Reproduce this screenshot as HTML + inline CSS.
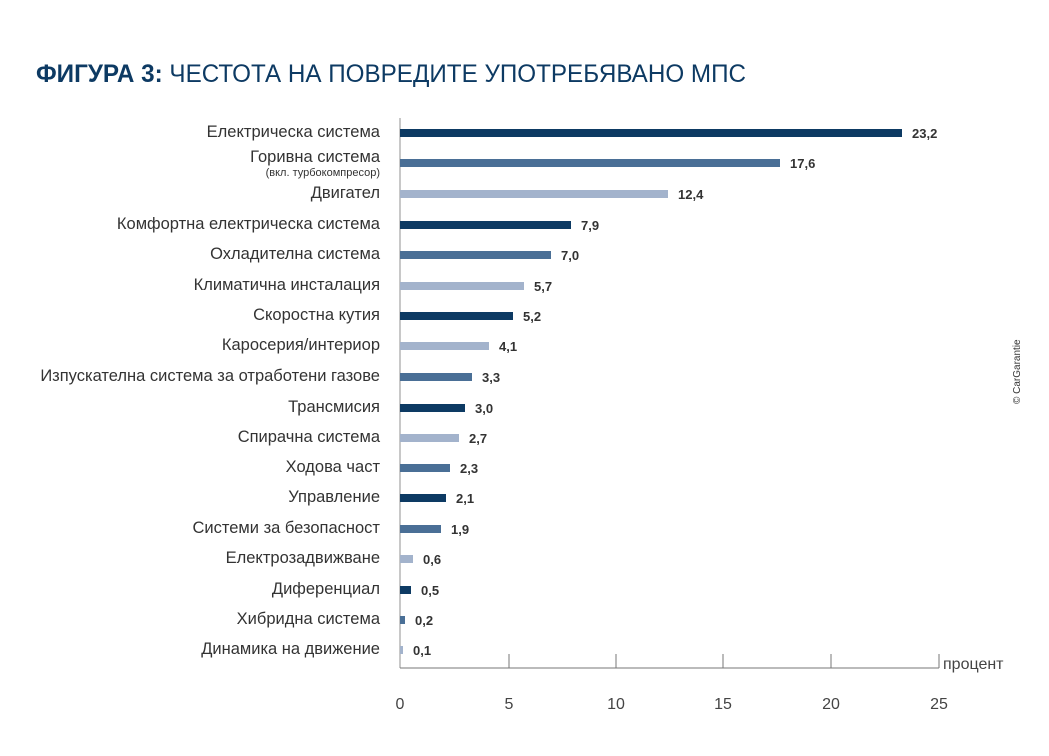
<!DOCTYPE html>
<html><head><meta charset="utf-8"><style>
body{margin:0;background:#fff;}
svg{display:block;font-family:"Liberation Sans","DejaVu Sans",sans-serif;}
</style></head><body>
<svg width="1049" height="756" viewBox="0 0 1049 756" xmlns="http://www.w3.org/2000/svg">
<text x="36" y="82" font-size="25" fill="#0d3a63" textLength="710" lengthAdjust="spacingAndGlyphs"><tspan font-weight="bold">ФИГУРА 3:</tspan> ЧЕСТОТА НА ПОВРЕДИТЕ УПОТРЕБЯВАНО МПС</text>
<line x1="400" y1="118" x2="400" y2="668" stroke="#c8c8c8" stroke-width="2"/>
<line x1="400" y1="668" x2="939" y2="668" stroke="#777" stroke-width="1"/>
<g stroke="#777" stroke-width="1">
<line x1="509" y1="654" x2="509" y2="668"/><line x1="616" y1="654" x2="616" y2="668"/><line x1="723" y1="654" x2="723" y2="668"/><line x1="831" y1="654" x2="831" y2="668"/><line x1="939" y1="654" x2="939" y2="668"/>
</g>
<g font-size="16" fill="#444" text-anchor="middle">
<text x="400" y="709">0</text><text x="509" y="709">5</text><text x="616" y="709">10</text><text x="723" y="709">15</text><text x="831" y="709">20</text><text x="939" y="709">25</text>
</g>
<text x="943" y="669" font-size="16" fill="#444">процент</text>
<text transform="translate(1020,404) rotate(-90)" font-size="10" fill="#333">© CarGarantie</text>
<g font-size="16.5" fill="#333" text-anchor="end">
<text x="380" y="137">Електрическа система</text>
<text x="380" y="162">Горивна система</text>
<text x="380" y="176" font-size="11">(вкл. турбокомпресор)</text>
<text x="380" y="198">Двигател</text>
<text x="380" y="229">Комфортна електрическа система</text>
<text x="380" y="259">Охладителна система</text>
<text x="380" y="290">Климатична инсталация</text>
<text x="380" y="320">Скоростна кутия</text>
<text x="380" y="350">Каросерия/интериор</text>
<text x="380" y="381">Изпускателна система за отработени газове</text>
<text x="380" y="412">Трансмисия</text>
<text x="380" y="442">Спирачна система</text>
<text x="380" y="472">Ходова част</text>
<text x="380" y="502">Управление</text>
<text x="380" y="533">Системи за безопасност</text>
<text x="380" y="563">Електрозадвижване</text>
<text x="380" y="594">Диференциал</text>
<text x="380" y="624">Хибридна система</text>
<text x="380" y="654">Динамика на движение</text>
</g>
<g>
<rect x="400" y="129" width="502" height="8" fill="#0d3a63"/>
<rect x="400" y="159" width="380" height="8" fill="#4a6f96"/>
<rect x="400" y="190" width="268" height="8" fill="#a3b3cc"/>
<rect x="400" y="221" width="171" height="8" fill="#0d3a63"/>
<rect x="400" y="251" width="151" height="8" fill="#4a6f96"/>
<rect x="400" y="282" width="124" height="8" fill="#a3b3cc"/>
<rect x="400" y="312" width="113" height="8" fill="#0d3a63"/>
<rect x="400" y="342" width="89" height="8" fill="#a3b3cc"/>
<rect x="400" y="373" width="72" height="8" fill="#4a6f96"/>
<rect x="400" y="404" width="65" height="8" fill="#0d3a63"/>
<rect x="400" y="434" width="59" height="8" fill="#a3b3cc"/>
<rect x="400" y="464" width="50" height="8" fill="#4a6f96"/>
<rect x="400" y="494" width="46" height="8" fill="#0d3a63"/>
<rect x="400" y="525" width="41" height="8" fill="#4a6f96"/>
<rect x="400" y="555" width="13" height="8" fill="#a3b3cc"/>
<rect x="400" y="586" width="11" height="8" fill="#0d3a63"/>
<rect x="400" y="616" width="5" height="8" fill="#4a6f96"/>
<rect x="400" y="646" width="3" height="8" fill="#a3b3cc"/>
</g>
<g font-size="13" font-weight="bold" fill="#333">
<text x="912" y="138">23,2</text>
<text x="790" y="168">17,6</text>
<text x="678" y="199">12,4</text>
<text x="581" y="230">7,9</text>
<text x="561" y="260">7,0</text>
<text x="534" y="291">5,7</text>
<text x="523" y="321">5,2</text>
<text x="499" y="351">4,1</text>
<text x="482" y="382">3,3</text>
<text x="475" y="413">3,0</text>
<text x="469" y="443">2,7</text>
<text x="460" y="473">2,3</text>
<text x="456" y="503">2,1</text>
<text x="451" y="534">1,9</text>
<text x="423" y="564">0,6</text>
<text x="421" y="595">0,5</text>
<text x="415" y="625">0,2</text>
<text x="413" y="655">0,1</text>
</g>
</svg>
</body></html>
